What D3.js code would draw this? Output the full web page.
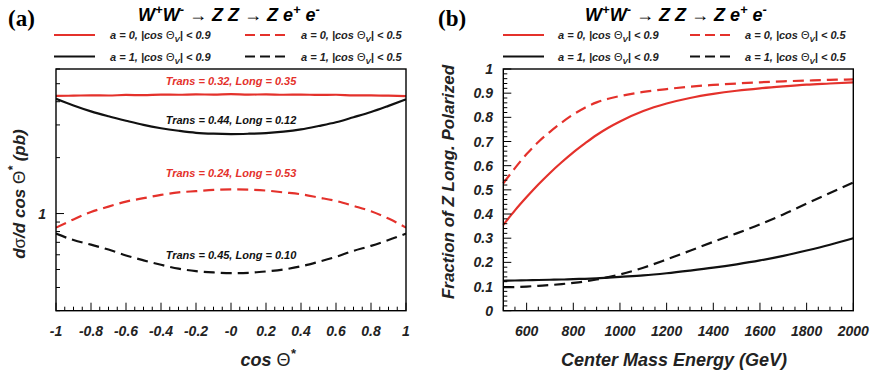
<!DOCTYPE html>
<html>
<head>
<meta charset="utf-8">
<script src="https://cdn.jsdelivr.net/npm/d3@7"></script>
<style>
  html, body { margin: 0; padding: 0; background: #fff; }
  svg { display: block; }
  text { font-family: "Liberation Sans", Arial, Helvetica, sans-serif; font-weight: bold; font-style: italic; }
</style>
</head>
<body>
<svg id="chart" width="878" height="375"></svg>
<script>
// ---- panel (a): angular distribution dσ/dcosΘ* (pb) ----
const cosTheta = [-1, -0.9, -0.8, -0.7, -0.6, -0.5, -0.4, -0.3, -0.2, -0.1, 0,
                  0.1, 0.2, 0.3, 0.4, 0.5, 0.6, 0.7, 0.8, 0.9, 1];
const sigA0Wide   = [4.30, 4.31, 4.33, 4.32, 4.35, 4.34, 4.37, 4.36, 4.38, 4.37, 4.39,
                     4.37, 4.38, 4.36, 4.37, 4.35, 4.36, 4.33, 4.33, 4.31, 4.29];
const sigA1Wide   = [4.15, 3.82, 3.55, 3.34, 3.16, 3.00, 2.88, 2.79, 2.72, 2.69, 2.68,
                     2.69, 2.71, 2.76, 2.84, 2.96, 3.10, 3.30, 3.52, 3.80, 4.12];
const sigA0Narrow = [0.84, 0.93, 1.02, 1.09, 1.16, 1.21, 1.26, 1.30, 1.32, 1.34, 1.35,
                     1.345, 1.33, 1.30, 1.27, 1.22, 1.17, 1.10, 1.03, 0.94, 0.84];
const sigA1Narrow = [0.78, 0.72, 0.68, 0.64, 0.595, 0.56, 0.53, 0.505, 0.49, 0.482, 0.478,
                     0.48, 0.488, 0.50, 0.52, 0.55, 0.585, 0.63, 0.67, 0.72, 0.78];
const fractionNotes = [
  "Trans = 0.32, Long = 0.35",
  "Trans = 0.44, Long = 0.12",
  "Trans = 0.24, Long = 0.53",
  "Trans = 0.45, Long = 0.10"
];
const cosTickLabels = ["-1", "-0.8", "-0.6", "-0.4", "-0.2", "-0", "0.2", "0.4", "0.6", "0.8", "1"];
const cosTickValues = [-1, -0.8, -0.6, -0.4, -0.2, 0, 0.2, 0.4, 0.6, 0.8, 1];

// ---- panel (b): longitudinal fraction vs energy ----
const energy = [500, 550, 600, 650, 700, 750, 800, 850, 900, 950, 1000,
                1100, 1200, 1300, 1400, 1500, 1600, 1700, 1800, 1900, 2000];
const fracA0Wide   = [0.355, 0.415, 0.470, 0.522, 0.570, 0.614, 0.655, 0.692, 0.727, 0.757, 0.783,
                      0.826, 0.857, 0.880, 0.897, 0.910, 0.920, 0.928, 0.935, 0.940, 0.945];
const fracA0Narrow = [0.527, 0.590, 0.648, 0.698, 0.740, 0.778, 0.812, 0.840, 0.862, 0.877, 0.888,
                      0.905, 0.917, 0.927, 0.934, 0.940, 0.945, 0.949, 0.952, 0.955, 0.957];
const fracA1Wide   = [0.124, 0.125, 0.126, 0.127, 0.128, 0.129, 0.131, 0.132, 0.134, 0.137, 0.140,
                      0.146, 0.155, 0.166, 0.178, 0.192, 0.208, 0.227, 0.249, 0.273, 0.300];
const fracA1Narrow = [0.097, 0.098, 0.100, 0.103, 0.106, 0.110, 0.115, 0.121, 0.129, 0.139, 0.150,
                      0.178, 0.212, 0.248, 0.285, 0.320, 0.357, 0.398, 0.443, 0.487, 0.530];
const energyTickValues = [600, 800, 1000, 1200, 1400, 1600, 1800, 2000];
const fracTickValues = [0, 0.1, 0.2, 0.3, 0.4, 0.5, 0.6, 0.7, 0.8, 0.9, 1];
const fracTickLabels = ["0", "0.1", "0.2", "0.3", "0.4", "0.5", "0.6", "0.7", "0.8", "0.9", "1"];

const RED = "#e4312b", BLACK = "#111";
const DASH = "11,6";

const svg = d3.select("#chart");

// frame geometry shared by both pads
const frameTop = 69, frameBottom = 310.7;
const padA = { x0: 56, x1: 406 };
const padB = { x0: 503.3, x1: 853.3 };

// ---------- rich text helper (sub/superscripts, symbol glyphs) ----------
function rich(sel, parts) {
  let shift = 0;
  parts.forEach(p => {
    const t = sel.append("tspan").text(p.t);
    let target = 0;
    if (p.sup) { t.attr("font-size", "0.72em"); target = -p.sup; }
    if (p.sub) { t.attr("font-size", "0.72em"); target = p.sub; }
    if (target !== shift) { t.attr("dy", target - shift); shift = target; }
    if (p.sym) t.style("font-style", "normal").style("font-weight", "normal");
  });
}

function legendText(aVal, cut) {
  return [
    { t: `a = ${aVal}, |cos ` },
    { t: "Θ", sym: true },
    { t: "V", sub: 3 },
    { t: `| < ${cut}` }
  ];
}

function drawHeader(x0, letter, titleX) {
  svg.append("text").attr("x", x0).attr("y", 26)
    .style("font-family", "'Liberation Serif', 'Times New Roman', serif")
    .style("font-style", "normal").attr("font-size", 23).text(letter);

  const title = svg.append("text").attr("x", titleX).attr("y", 21)
    .attr("text-anchor", "middle").attr("font-size", 18);
  rich(title, [
    { t: "W" }, { t: "+", sup: 7 }, { t: "W" }, { t: "-", sup: 7 },
    { t: " → ", sym: true }, { t: "Z Z" },
    { t: " → ", sym: true }, { t: "Z e" }, { t: "+", sup: 7 }, { t: " e" }, { t: "-", sup: 7 }
  ]);
}

function drawLegend(lx, tx, lx2, tx2) {
  const rows = [
    { y: 35, items: [[RED, null, "0", "0.9"], [RED, DASH, "0", "0.5"]] },
    { y: 56.5, items: [[BLACK, null, "1", "0.9"], [BLACK, DASH, "1", "0.5"]] }
  ];
  rows.forEach(r => {
    r.items.forEach((it, i) => {
      const x = i === 0 ? lx : lx2;
      const xt = i === 0 ? tx : tx2;
      svg.append("line").attr("x1", x).attr("x2", x + 41).attr("y1", r.y).attr("y2", r.y)
        .attr("stroke", it[0]).attr("stroke-width", 2.2)
        .attr("stroke-dasharray", it[1] ? "10,5" : null);
      const t = svg.append("text").attr("x", xt).attr("y", r.y + 4).attr("font-size", 11).attr("fill", "#222");
      rich(t, legendText(it[2], it[3]));
    });
  });
}

// =================== panel (a) ===================
const xA = d3.scaleLinear().domain([-1, 1]).range([padA.x0, padA.x1]);
const yA = d3.scaleLog().domain([0.3, 6]).range([frameBottom, frameTop]);

drawHeader(8, "(a)", 229);
drawLegend(54, 110, 245, 301);

const gA = svg.append("g");
svg.append("clipPath").attr("id", "clipA")
  .append("rect").attr("x", padA.x0).attr("y", frameTop)
  .attr("width", padA.x1 - padA.x0).attr("height", frameBottom - frameTop);

const lineA = ys => d3.line().x((d, i) => xA(cosTheta[i])).y(d => yA(d)).curve(d3.curveMonotoneX)(ys);
const seriesA = [
  { v: sigA0Wide, c: RED, dash: null },
  { v: sigA1Wide, c: BLACK, dash: null },
  { v: sigA0Narrow, c: RED, dash: DASH },
  { v: sigA1Narrow, c: BLACK, dash: DASH }
];
gA.append("g").attr("clip-path", "url(#clipA)").selectAll("path").data(seriesA).join("path")
  .attr("d", s => lineA(s.v)).attr("fill", "none").attr("stroke", s => s.c)
  .attr("stroke-width", 2.2).attr("stroke-dasharray", s => s.dash);

// bottom ticks: major every 0.2, minor every 0.05
const cosTicks = d3.range(0, 41).map(i => -1 + i * 0.05);
gA.selectAll("line.xt").data(cosTicks).join("line")
  .attr("x1", d => xA(d)).attr("x2", d => xA(d))
  .attr("y1", frameBottom).attr("y2", (d, i) => frameBottom - (i % 4 === 0 ? 8 : 4))
  .attr("stroke", "#000").attr("stroke-width", 1);
gA.selectAll("text.xl").data(cosTickValues).join("text")
  .attr("x", d => xA(d)).attr("y", 336).attr("text-anchor", "middle")
  .attr("font-size", 14).attr("fill", "#222").text((d, i) => cosTickLabels[i]);

// log ticks on the left
const logMinor = [0.3, 0.4, 0.5, 0.6, 0.7, 0.8, 0.9, 2, 3, 4, 5, 6];
gA.selectAll("line.ym").data(logMinor).join("line")
  .attr("x1", padA.x0).attr("x2", padA.x0 + 4).attr("y1", d => yA(d)).attr("y2", d => yA(d))
  .attr("stroke", "#000").attr("stroke-width", 1);
gA.append("line").attr("x1", padA.x0).attr("x2", padA.x0 + 8).attr("y1", yA(1)).attr("y2", yA(1))
  .attr("stroke", "#000").attr("stroke-width", 1);
gA.append("text").attr("x", 46).attr("y", yA(1) + 5).attr("text-anchor", "end")
  .attr("font-size", 14).attr("fill", "#222").text("1");

gA.append("rect").attr("x", padA.x0).attr("y", frameTop).attr("width", padA.x1 - padA.x0)
  .attr("height", frameBottom - frameTop)
  .attr("fill", "none").attr("stroke", "#000").attr("stroke-width", 1.4);

// fraction annotations
const notePos = [[0, 4.95, RED], [0, 3.05, BLACK], [0, 1.57, RED], [0, 0.57, BLACK]];
fractionNotes.forEach((txt, i) => {
  gA.append("text").attr("x", xA(notePos[i][0])).attr("y", yA(notePos[i][1]))
    .attr("text-anchor", "middle").attr("font-size", 11).attr("fill", notePos[i][2]).text(txt);
});

// axis titles
const ytA = gA.append("text").attr("transform", "translate(25,194) rotate(-90)")
  .attr("text-anchor", "middle").attr("font-size", 17).attr("fill", "#222");
rich(ytA, [{ t: "d" }, { t: "σ", sym: true }, { t: "/d cos " }, { t: "Θ", sym: true },
           { t: "*", sup: 8 }, { t: " (pb)" }]);
const xtA = gA.append("text").attr("x", 268).attr("y", 366)
  .attr("text-anchor", "middle").attr("font-size", 18).attr("fill", "#222");
rich(xtA, [{ t: "cos " }, { t: "Θ", sym: true }, { t: "*", sup: 8 }]);

// =================== panel (b) ===================
const xB = d3.scaleLinear().domain([500, 2000]).range([padB.x0, padB.x1]);
const yB = d3.scaleLinear().domain([0, 1]).range([frameBottom, frameTop]);

drawHeader(438, "(b)", 676);
drawLegend(503, 558, 690, 745);

const gB = svg.append("g");
const lineB = ys => d3.line().x((d, i) => xB(energy[i])).y(d => yB(d)).curve(d3.curveMonotoneX)(ys);
const seriesB = [
  { v: fracA0Wide, c: RED, dash: null },
  { v: fracA0Narrow, c: RED, dash: DASH },
  { v: fracA1Wide, c: BLACK, dash: null },
  { v: fracA1Narrow, c: BLACK, dash: DASH }
];
gB.selectAll("path").data(seriesB).join("path")
  .attr("d", s => lineB(s.v)).attr("fill", "none").attr("stroke", s => s.c)
  .attr("stroke-width", 2.2).attr("stroke-dasharray", s => s.dash);

const eTicks = d3.range(500, 2001, 50);
gB.selectAll("line.xt").data(eTicks).join("line")
  .attr("x1", d => xB(d)).attr("x2", d => xB(d))
  .attr("y1", frameBottom).attr("y2", d => frameBottom - ((d - 600) % 200 === 0 ? 8 : 4))
  .attr("stroke", "#000").attr("stroke-width", 1);
gB.selectAll("text.xl").data(energyTickValues).join("text")
  .attr("x", d => xB(d)).attr("y", 336).attr("text-anchor", "middle")
  .attr("font-size", 14).attr("fill", "#222").text(d => d);

const fTicks = d3.range(0, 51).map(i => i / 50);
gB.selectAll("line.yt").data(fTicks).join("line")
  .attr("x1", padB.x0).attr("x2", (d, i) => padB.x0 + (i % 5 === 0 ? 8 : 4))
  .attr("y1", d => yB(d)).attr("y2", d => yB(d))
  .attr("stroke", "#000").attr("stroke-width", 1);
gB.selectAll("text.yl").data(fracTickValues).join("text")
  .attr("x", 493).attr("y", d => yB(d) + 5).attr("text-anchor", "end")
  .attr("font-size", 14).attr("fill", "#222").text((d, i) => fracTickLabels[i]);

gB.append("rect").attr("x", padB.x0).attr("y", frameTop).attr("width", padB.x1 - padB.x0)
  .attr("height", frameBottom - frameTop)
  .attr("fill", "none").attr("stroke", "#000").attr("stroke-width", 1.4);

gB.append("text").attr("transform", "translate(454,182) rotate(-90)")
  .attr("text-anchor", "middle").attr("font-size", 17).attr("fill", "#222")
  .text("Fraction of Z Long. Polarized");
gB.append("text").attr("x", 674).attr("y", 366)
  .attr("text-anchor", "middle").attr("font-size", 18).attr("fill", "#222")
  .text("Center Mass Energy (GeV)");
</script>
</body>
</html>
